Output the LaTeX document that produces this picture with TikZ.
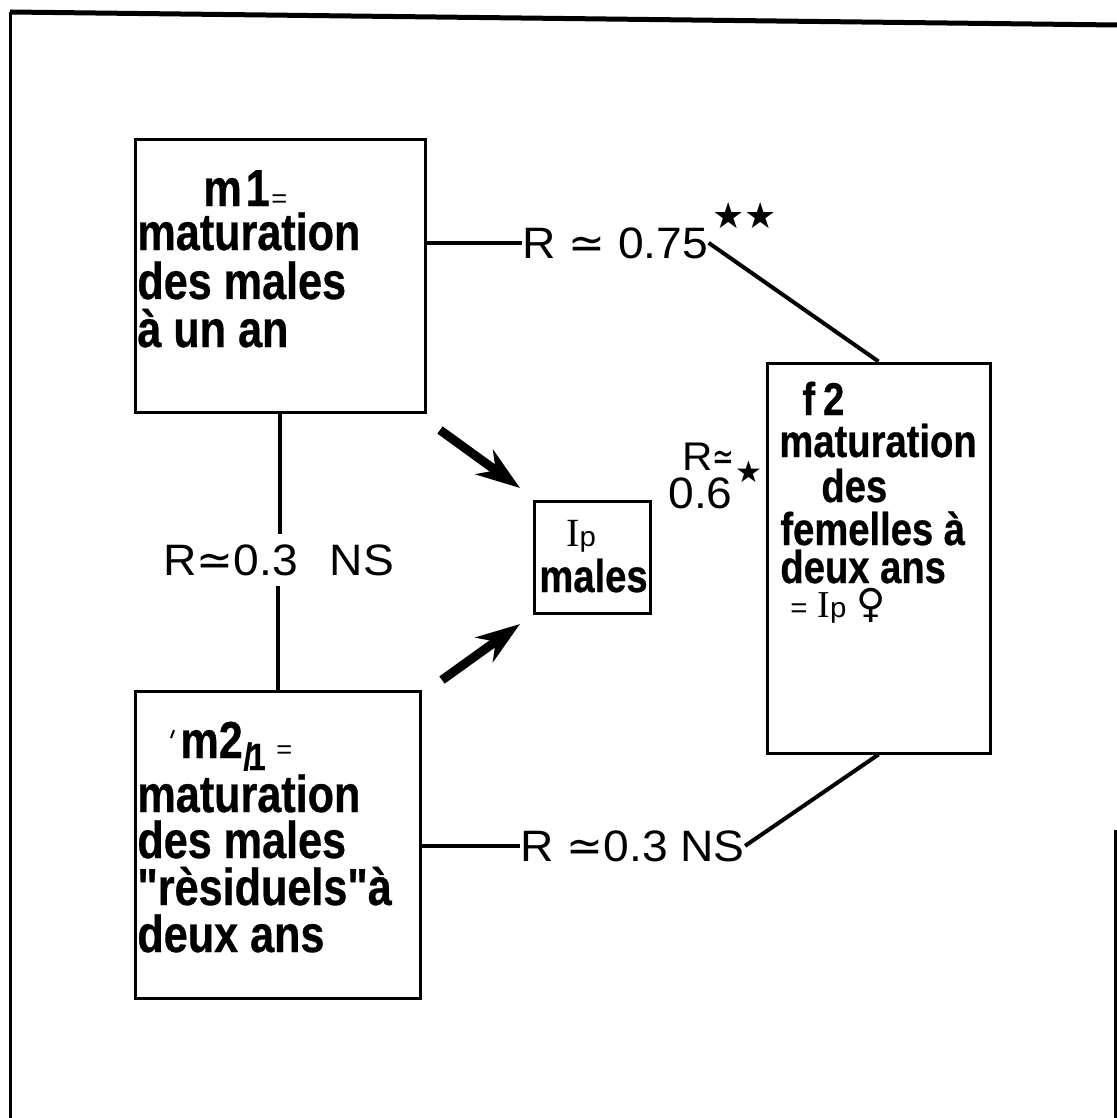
\documentclass[tikz,border=0pt]{standalone}
\usepackage{fontspec}
\setmainfont{Liberation Sans}
\newfontfamily\boxfont{Liberation Sans Bold}[FakeStretch=0.83,FakeBold=0.6]
\newfontfamily\labfont{Liberation Sans}[FakeStretch=1.05]
\newfontfamily\symfont{DejaVu Sans}
\newfontfamily\serfont{Liberation Serif}
\usetikzlibrary{arrows.meta}
\begin{document}
\begin{tikzpicture}[x=0.5pt,y=-0.5pt,
  box/.style={draw,line width=1.5pt,rectangle,inner sep=0pt},
  bt/.style={anchor=base west,inner sep=0pt,font=\boxfont\fontsize{26}{26}\selectfont},
  btn/.style={anchor=base west,inner sep=0pt,font=\boxfont\fontsize{23}{23}\selectfont},
  lab/.style={anchor=base west,inner sep=0pt,font=\labfont\fontsize{22}{22}\selectfont},
  conn/.style={line width=2pt},
  bigarrow/.style={line width=4.5pt,-{Stealth[length=22pt,width=15pt,inset=7pt]}}]
\fill[white] (0,0) rectangle (1117,1118);
\useasboundingbox (0,0) rectangle (1117,1118);
% frame
\draw[line width=1.5pt] (10,1118) -- (10,12);
\draw[line width=2.5pt] (10,12) -- (1117,25);
\draw[line width=1.5pt] (1115,830) -- (1115,1118);
% boxes
\node[box,minimum width=145pt,minimum height=136pt] (m1) at (280,276) {};
\node[box,minimum width=142.5pt,minimum height=153.5pt] (m2) at (277.5,844.5) {};
\node[box,minimum width=111.5pt,minimum height=195pt] (f2) at (878.5,558) {};
\node[box,minimum width=58pt,minimum height=56pt] (ip) at (592,557) {};
% m1 text
\node[bt] (m1a) at (203,206) {m\kern2pt 1};
\node[bt,font=\labfont\fontsize{13}{13}\selectfont] (m1eq) at (271,208) {=};
\node[bt] (m1b) at (137,250) {maturation};
\node[bt] (m1c) at (137,299) {des males};
\node[bt] (m1d) at (137,347) {à un an};
% m2 text
\draw[line width=1pt] (171,738) -- (174,730);
\node[bt] (m2a) at (180,758) {m2};
\node[bt,font=\boxfont\fontsize{19}{19}\selectfont] (m2s) at (243,770) {/\kern-2pt 1};
\node[bt,font=\labfont\fontsize{13}{13}\selectfont] (m2eq) at (276,758) {=};
\node[bt] (m2b) at (137,812) {maturation};
\node[bt] (m2c) at (137,858) {des males};
\node[bt] (m2d) at (137,905) {"rèsiduels"à};
\node[bt] (m2e) at (137,952) {deux ans};
% f2 text
\node[btn] (f2a) at (802,415) {f\kern4pt 2};
\node[btn] (f2b) at (779,457) {maturation};
\node[btn] (f2c) at (821,502) {des};
\node[btn] (f2d) at (780,545) {femelles à};
\node[btn] (f2e) at (780,583) {deux ans};
\node[anchor=base west,inner sep=0pt] (f2f) at (790,617) {{\labfont\fontsize{14}{14}\selectfont =}\hspace{5pt}{\serfont\fontsize{19}{19}\selectfont I}{\labfont\fontsize{14}{14}\selectfont p}\hspace{5pt}{\symfont\fontsize{20}{20}\selectfont ♀}};
% Ip text
\node[anchor=base west,inner sep=0pt] (ipa) at (566,546) {{\serfont\fontsize{20}{20}\selectfont I}{\labfont\fontsize{14}{14}\selectfont p}};
\node[btn] (ipb) at (539,592) {males};
% labels
\node[lab] (r75) at (522,258) {R {\symfont≃} 0.75};
\node[anchor=base west,inner sep=0pt,font=\symfont\fontsize{18}{18}\selectfont] (r75s) at (712,228) {★★};
\node[lab,inner ysep=5pt] (r03m) at (163,575) {R{\symfont≃}0.3\hspace{16pt}NS};
\node[lab] (r03b) at (520,861) {R {\symfont≃}0.3 NS};
\node[lab,font=\labfont\fontsize{20}{20}\selectfont] (r06a) at (682,470) {R\scalebox{0.65}[1]{\symfont≃}};
\node[lab] (r06b) at (668,508) {0.6};
\node[anchor=base west,inner sep=0pt,font=\symfont\fontsize{15}{15}\selectfont] (r06s) at (735,482) {★};
% connectors
\draw[conn] (m1.east |- r75.west) -- (r75.west);
\draw[conn] (r75.east) -- (f2.north);
\draw[conn] (m1.south) -- (m1.south |- r03m.north);
\draw[conn] (m2.north) -- (m2.north |- r03m.south);
\draw[conn] (m2.east |- r03b.west) -- (r03b.west);
\draw[conn] (r03b.east) -- (f2.south);
% arrows
\coordinate (a1s) at (440,430);
\coordinate (a1e) at (520,488);
\coordinate (a2s) at (442,680);
\coordinate (a2e) at (520,624);
\draw[bigarrow] (a1s) -- (a1e);
\draw[bigarrow] (a2s) -- (a2e);
\end{tikzpicture}
\end{document}
